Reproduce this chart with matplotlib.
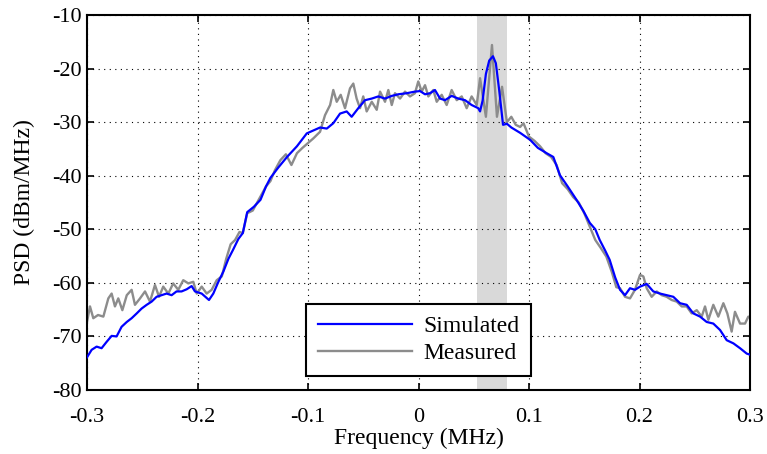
import matplotlib
matplotlib.use("Agg")
import matplotlib.pyplot as plt

plt.rcParams['font.family'] = ['Liberation Serif', 'DejaVu Serif']

meas_f = [-0.3000, -0.2973, -0.2943, -0.2900, -0.2852, -0.2807, -0.2777, -0.2747, -0.2717, -0.2680,
          -0.2640, -0.2596, -0.2566, -0.2520, -0.2475, -0.2430, -0.2385, -0.2348, -0.2310, -0.2264,
          -0.2220, -0.2174, -0.2129, -0.2083, -0.2038, -0.2007, -0.1962, -0.1917, -0.1872, -0.1826,
          -0.1780, -0.1740, -0.1700, -0.1660, -0.1620, -0.1590, -0.1550, -0.1500, -0.1460, -0.1420,
          -0.1380, -0.1340, -0.1300, -0.1250, -0.1200, -0.1150, -0.1100, -0.1050, -0.1000, -0.0950,
          -0.0891, -0.0846, -0.0800, -0.0771, -0.0740, -0.0704, -0.0665, -0.0620, -0.0590, -0.0560,
          -0.0529, -0.0500, -0.0469, -0.0423, -0.0378, -0.0348, -0.0303, -0.0273, -0.0242, -0.0213,
          -0.0167, -0.0122, -0.0077, -0.0032, -0.0002, 0.0029, 0.0059, 0.0089, 0.0134, 0.0165,
          0.0210, 0.0255, 0.0300, 0.0346, 0.0391, 0.0436, 0.0481, 0.0527, 0.0557, 0.0610,
          0.0665, 0.0710, 0.0756, 0.0800, 0.0840, 0.0880, 0.0920, 0.0950, 0.1000, 0.1050,
          0.1100, 0.1150, 0.1200, 0.1250, 0.1300, 0.1350, 0.1400, 0.1450, 0.1500, 0.1550,
          0.1600, 0.1650, 0.1700, 0.1750, 0.1790, 0.1824, 0.1869, 0.1914, 0.1959, 0.2005,
          0.2035, 0.2065, 0.2110, 0.2156, 0.2201, 0.2246, 0.2291, 0.2337, 0.2382, 0.2427,
          0.2472, 0.2518, 0.2563, 0.2593, 0.2623, 0.2668, 0.2713, 0.2759, 0.2795, 0.2834,
          0.2864, 0.2910, 0.2955, 0.2985, 0.3000]
meas_psd = [-67.3, -64.4, -66.6, -66.0, -66.3, -62.9, -62.0, -64.4, -62.9, -65.1,
            -62.3, -61.3, -64.1, -62.9, -61.6, -63.5, -60.4, -62.6, -60.7, -62.0,
            -60.1, -61.3, -59.5, -60.1, -59.8, -62.0, -60.7, -62.0, -61.3, -59.5,
            -58.8, -55.5, -52.8, -52.0, -50.5, -50.7, -47.0, -46.5, -45.0, -43.5,
            -42.0, -41.0, -39.0, -37.1, -36.0, -38.0, -35.8, -34.8, -33.9, -33.0,
            -31.8, -28.7, -26.8, -24.0, -26.2, -24.9, -27.4, -23.7, -22.8, -25.6,
            -27.4, -25.2, -28.0, -26.2, -27.7, -24.3, -26.2, -24.0, -26.8, -24.6,
            -25.6, -24.3, -25.2, -24.6, -22.4, -24.3, -23.1, -25.2, -24.0, -26.2,
            -24.9, -26.8, -24.0, -25.9, -25.2, -27.4, -25.2, -26.8, -21.8, -29.0,
            -15.6, -29.0, -23.4, -30.0, -29.0, -30.5, -30.9, -30.2, -32.7, -33.5,
            -34.5, -35.8, -36.5, -38.0, -41.4, -42.5, -44.0, -45.0, -47.0, -49.5,
            -52.0, -53.5, -55.1, -58.0, -60.8, -61.0, -62.6, -62.9, -61.3, -58.5,
            -58.8, -61.0, -62.6, -61.6, -62.3, -62.6, -63.2, -63.5, -64.4, -64.4,
            -65.7, -65.1, -66.3, -64.4, -66.9, -64.1, -66.3, -63.8, -65.7, -69.1,
            -65.4, -67.6, -67.6, -66.3, -66.5]

sim_f = [-0.3000, -0.2958, -0.2913, -0.2868, -0.2822, -0.2777, -0.2732, -0.2687, -0.2640, -0.2596,
         -0.2550, -0.2506, -0.2460, -0.2415, -0.2370, -0.2325, -0.2280, -0.2234, -0.2190, -0.2144,
         -0.2098, -0.2053, -0.2023, -0.1962, -0.1896, -0.1857, -0.1811, -0.1766, -0.1720, -0.1680,
         -0.1630, -0.1590, -0.1550, -0.1490, -0.1430, -0.1380, -0.1340, -0.1270, -0.1190, -0.1100,
         -0.1011, -0.0891, -0.0830, -0.0771, -0.0710, -0.0650, -0.0605, -0.0545, -0.0484, -0.0423,
         -0.0364, -0.0303, -0.0242, -0.0183, -0.0107, -0.0032, 0.0014, 0.0059, 0.0104, 0.0149,
         0.0195, 0.0240, 0.0300, 0.0360, 0.0421, 0.0481, 0.0541, 0.0557, 0.0580, 0.0610,
         0.0640, 0.0674, 0.0700, 0.0730, 0.0765, 0.0800, 0.0840, 0.0880, 0.0920, 0.1010,
         0.1080, 0.1160, 0.1220, 0.1280, 0.1350, 0.1430, 0.1490, 0.1550, 0.1600, 0.1640,
         0.1690, 0.1730, 0.1780, 0.1824, 0.1869, 0.1914, 0.1959, 0.2005, 0.2065, 0.2125,
         0.2186, 0.2246, 0.2306, 0.2367, 0.2427, 0.2487, 0.2548, 0.2608, 0.2668, 0.2729,
         0.2789, 0.2850, 0.2910, 0.2970, 0.3000]
sim_psd = [-73.9, -72.5, -71.9, -72.2, -71.0, -69.9, -70.0, -68.2, -67.3, -66.6,
           -65.7, -64.8, -64.1, -63.5, -62.6, -62.3, -62.0, -62.3, -61.6, -61.6,
           -61.2, -60.6, -61.6, -62.0, -63.2, -62.0, -59.8, -57.9, -55.5, -53.9,
           -51.8, -50.7, -46.8, -45.8, -44.5, -42.0, -40.4, -38.5, -36.5, -34.5,
           -32.1, -31.0, -31.2, -30.2, -28.4, -28.0, -29.0, -27.4, -25.9, -25.6,
           -25.2, -25.6, -25.1, -24.8, -24.6, -24.3, -24.2, -24.8, -24.6, -24.0,
           -25.6, -25.9, -25.1, -25.6, -25.9, -26.8, -27.4, -28.0, -26.0, -21.0,
           -18.5, -17.7, -19.0, -24.0, -30.5, -30.3, -31.0, -31.5, -32.0, -33.3,
           -34.8, -35.8, -36.5, -39.9, -42.0, -44.5, -46.5, -48.8, -50.0, -52.0,
           -54.0, -55.7, -59.0, -61.3, -62.3, -61.0, -61.3, -60.7, -60.2, -61.6,
           -62.0, -62.3, -62.6, -63.8, -64.1, -65.7, -66.3, -67.3, -67.6, -68.8,
           -70.7, -71.3, -72.2, -73.2, -73.4]

shade_band = (0.053, 0.080)
x_ticks = [-0.3, -0.2, -0.1, 0, 0.1, 0.2, 0.3]
x_labels = ['-0.3', '-0.2', '-0.1', '0', '0.1', '0.2', '0.3']
y_ticks = [-80, -70, -60, -50, -40, -30, -20, -10]
y_labels = ['-80', '-70', '-60', '-50', '-40', '-30', '-20', '-10']

FS = 16
FL = 17

fig = plt.figure(figsize=(7.67, 4.54), dpi=100)
ax = fig.add_axes([87/767, 64/454, 663/767, 375/454])

ax.axvspan(shade_band[0], shade_band[1], color='#d9d9d9', zorder=0, lw=0)
l_meas, = ax.plot(meas_f, meas_psd, color='#8c8c8c', lw=1.7, zorder=2, label='Measured')
l_sim, = ax.plot(sim_f, sim_psd, color='#0000ff', lw=1.6, zorder=3, label='Simulated')

ax.set_xlim(-0.3, 0.3)
ax.set_ylim(-80, -10)
ax.set_xticks(x_ticks)
ax.set_xticklabels(x_labels)
ax.set_yticks(y_ticks)
ax.set_yticklabels(y_labels)
ax.grid(True, color='black', linestyle=(0, (1, 4)), linewidth=0.8)
ax.tick_params(direction='in', top=True, right=True, length=5, width=1.2, labelsize=FS)
ax.tick_params(axis='x', pad=13)
ax.tick_params(axis='y', pad=4)
for s in ax.spines.values():
    s.set_linewidth(1.5)

ax.set_xlabel('Frequency (MHz)', fontsize=FL)
ax.set_ylabel('PSD (dBm/MHz)', fontsize=FL)
ax.xaxis.set_label_coords(0.5, -0.102)
ax.yaxis.set_label_coords(-0.078, 0.5)

leg = ax.legend(handles=[l_sim, l_meas], loc='lower center', bbox_to_anchor=(0.5, 0.037),
                borderaxespad=0, fancybox=False, framealpha=1, edgecolor='black',
                fontsize=FL, handlelength=4.0, borderpad=0.5, labelspacing=0.25,
                handletextpad=0.45)
leg.get_frame().set_linewidth(1.5)

fig.savefig('out.png', dpi=100)
